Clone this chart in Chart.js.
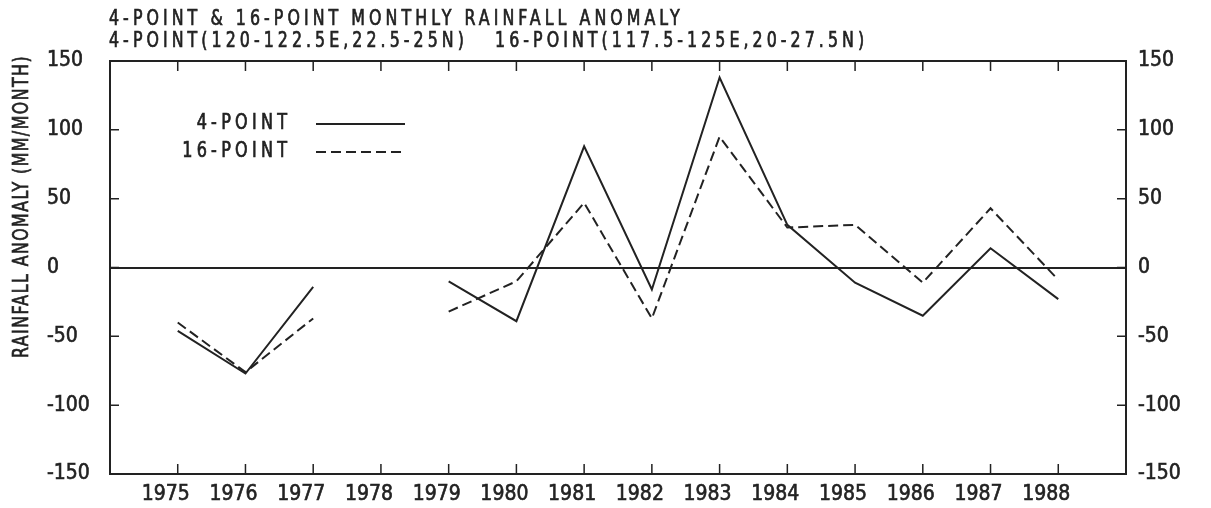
<!DOCTYPE html>
<html>
<head>
<meta charset="utf-8">
<script src="https://cdn.jsdelivr.net/npm/chart.js@4.4.1/dist/chart.umd.min.js"></script>
<style>
    body { margin: 0; background: #fff; }
    #wrap { width: 1211px; height: 508px; position: relative; }
</style>
</head>
<body>
<div id="wrap"><canvas id="rainChart"></canvas></div>
<script>
// values
const years = [1975, 1976, 1977, 1978, 1979, 1980, 1981, 1982, 1983, 1984, 1985, 1986, 1987, 1988];
const fourPoint = [-46, -77, -14, null, -10, -39, 88, -16, 138, 31, -11, -35, 14, -23];
const sixteenPoint = [-40, -76, -37, null, -32, -10, 47, -37, 95, 29, 31, -11, 43, -9];
const yTicks = [-150, -100, -50, 0, 50, 100, 150];

const titleLine1 = '4-POINT & 16-POINT MONTHLY RAINFALL ANOMALY';
const titleLine2 = '4-POINT(120-122.5E,22.5-25N)   16-POINT(117.5-125E,20-27.5N)';
const yTitle = 'RAINFALL ANOMALY (MM/MONTH)';

const ink = '#222';
const fontFamily = "'DejaVu Sans Condensed', 'DejaVu Sans', sans-serif";

function toPoints(values) {
    return years.map((yr, i) => ({ x: yr, y: values[i] }));
}

// plotter lettering: narrow glyphs, loose spacing; returns the gap that makes text fill width
function gapFor(ctx, text, width, squeeze) {
    ctx.letterSpacing = '0px';
    const w = ctx.measureText(text).width;
    return (width / squeeze - w) / text.length;
}

function drawSpaced(ctx, text, x, y, gap, squeeze) {
    ctx.save();
    ctx.letterSpacing = gap.toFixed(2) + 'px';
    ctx.translate(x, y);
    ctx.scale(squeeze, 1);
    ctx.textAlign = 'left';
    ctx.lineWidth = 0.7;
    ctx.setLineDash([]);
    ctx.fillText(text, 0, 0);
    ctx.strokeText(text, 0, 0);
    ctx.restore();
}

// frame, inward tick marks, titles and the small legend
const paperPlugin = {
    id: 'paper',
    afterDraw(chart) {
        const ctx = chart.ctx;
        const area = chart.chartArea;
        const xs = chart.scales.x;
        const ys = chart.scales.y;
        ctx.save();
        ctx.strokeStyle = ink;
        ctx.fillStyle = ink;
        ctx.lineWidth = 2;

        // top border
        ctx.beginPath();
        ctx.moveTo(area.left, area.top);
        ctx.lineTo(area.right, area.top);
        ctx.stroke();

        // ticks pointing into the plot
        ctx.lineWidth = 1.5;
        years.forEach(yr => {
            const px = xs.getPixelForValue(yr);
            ctx.beginPath();
            ctx.moveTo(px, area.bottom);
            ctx.lineTo(px, area.bottom - 10);
            ctx.moveTo(px, area.top);
            ctx.lineTo(px, area.top + 10);
            ctx.stroke();
        });
        yTicks.forEach(v => {
            const py = ys.getPixelForValue(v);
            ctx.beginPath();
            ctx.moveTo(area.left, py);
            ctx.lineTo(area.left + 9, py);
            ctx.moveTo(area.right, py);
            ctx.lineTo(area.right - 9, py);
            ctx.stroke();
        });

        // titles share one lettering, sized so the long line spans 109..868
        ctx.font = '22px ' + fontFamily;
        ctx.textBaseline = 'middle';
        const tGap = gapFor(ctx, titleLine2, 759, 0.8);
        drawSpaced(ctx, titleLine1, 109, 19, tGap, 0.8);
        drawSpaced(ctx, titleLine2, 109, 41, tGap, 0.8);

        // y axis title
        ctx.save();
        ctx.translate(22, 358);
        ctx.rotate(-Math.PI / 2);
        ctx.font = '22px ' + fontFamily;
        drawSpaced(ctx, yTitle, 0, 0, gapFor(ctx, yTitle, 303, 0.8), 0.8);
        ctx.restore();

        // legend: label right-aligned at 287, line sample 316..405
        ctx.font = '21px ' + fontFamily;
        const lGap = gapFor(ctx, '16-POINT', 109, 0.85);
        chart.data.datasets.forEach((ds, i) => {
            const ly = 124 + i * 28;
            ctx.letterSpacing = lGap.toFixed(2) + 'px';
            const tw = (ctx.measureText(ds.label).width - lGap) * 0.85;
            drawSpaced(ctx, ds.label, 287 - tw, ly, lGap, 0.85);
            ctx.letterSpacing = '0px';
            ctx.setLineDash(ds.borderDash || []);
            ctx.lineWidth = 2;
            ctx.beginPath();
            ctx.moveTo(316, ly);
            ctx.lineTo(405, ly);
            ctx.stroke();
        });
        ctx.restore();
    }
};

const tickFont = { family: fontFamily, size: 21 };

new Chart(document.getElementById('rainChart'), {
    type: 'line',
    data: {
        datasets: [{
            label: '4-POINT',
            data: toPoints(fourPoint),
            borderColor: ink,
            borderWidth: 2,
            pointRadius: 0,
            spanGaps: false,
            tension: 0
        }, {
            label: '16-POINT',
            data: toPoints(sixteenPoint),
            borderColor: ink,
            borderWidth: 2,
            borderDash: [10, 5],
            pointRadius: 0,
            spanGaps: false,
            tension: 0
        }]
    },
    options: {
        responsive: true,
        maintainAspectRatio: false,
        animation: false,
        layout: {
            padding: { top: 61, left: 47, right: 0, bottom: 0 }
        },
        plugins: {
            legend: { display: false },
            title: { display: false },
            tooltip: { enabled: false }
        },
        scales: {
            x: {
                type: 'linear',
                min: 1974,
                max: 1989,
                afterBuildTicks: scale => {
                    scale.ticks = years.map(v => ({ value: v }));
                },
                afterFit: scale => { scale.height = 34; },
                ticks: {
                    autoSkip: false,
                    maxRotation: 0,
                    padding: 0,
                    color: ink,
                    textStrokeColor: ink,
                    textStrokeWidth: 0.6,
                    font: tickFont,
                    // the printed year labels sit a little left of their tick
                    callback: v => String(v) + '    '
                },
                grid: { display: false },
                border: { display: true, color: ink, width: 2 }
            },
            y: {
                position: 'left',
                min: -150,
                max: 150,
                afterBuildTicks: scale => {
                    scale.ticks = yTicks.map(v => ({ value: v }));
                },
                afterFit: scale => { scale.width = 63; },
                ticks: {
                    crossAlign: 'far',
                    color: ink,
                    textStrokeColor: ink,
                    textStrokeWidth: 0.6,
                    font: tickFont
                },
                grid: {
                    drawTicks: false,
                    lineWidth: 2,
                    color: c => (c.tick && c.tick.value === 0 ? ink : 'rgba(0,0,0,0)')
                },
                border: { display: true, color: ink, width: 2 }
            },
            y2: {
                position: 'right',
                min: -150,
                max: 150,
                afterBuildTicks: scale => {
                    scale.ticks = yTicks.map(v => ({ value: v }));
                },
                afterFit: scale => { scale.width = 85; },
                ticks: {
                    padding: 12,
                    color: ink,
                    textStrokeColor: ink,
                    textStrokeWidth: 0.6,
                    font: tickFont
                },
                grid: { drawOnChartArea: false, drawTicks: false },
                border: { display: true, color: ink, width: 2 }
            }
        }
    },
    plugins: [paperPlugin]
});
</script>
</body>
</html>
